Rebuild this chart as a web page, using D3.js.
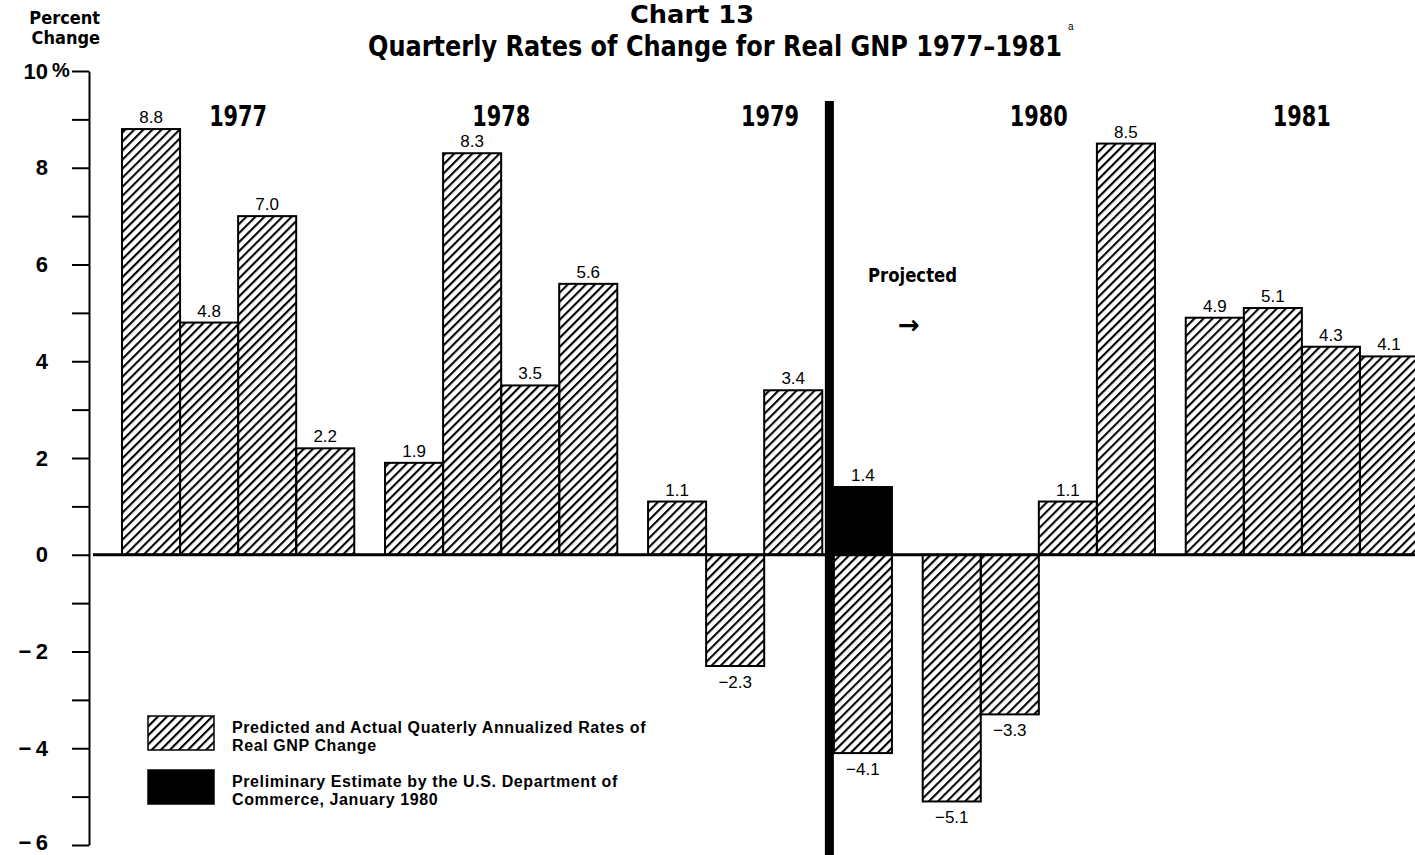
<!DOCTYPE html>
<html>
<head>
<meta charset="utf-8">
<script src="https://cdn.jsdelivr.net/npm/d3@7"></script>
<style>
  html, body { margin: 0; padding: 0; background: #fff; }
  svg { display: block; }
  .narrow { font-family: "Liberation Sans Narrow", "DejaVu Sans Condensed", sans-serif; font-weight: bold; }
  .plain { font-family: "Liberation Sans", Arial, sans-serif; }
  .legend { font-family: "Liberation Sans", Arial, sans-serif; font-weight: bold; font-size: 16px; letter-spacing: 0.6px; }
</style>
</head>
<body>
<div id="chart"></div>
<script>
// chart values
var years = ["1977", "1978", "1979", "1980", "1981"];
var quarters = [1, 2, 3, 4];
// predicted and actual quarterly rates, year by year
var gnpChange = [
  8.8, 4.8, 7.0, 2.2,
  1.9, 8.3, 3.5, 5.6,
  1.1, -2.3, 3.4, -4.1,
  -5.1, -3.3, 1.1, 8.5,
  4.9, 5.1, 4.3, 4.1
];
// preliminary Commerce estimate
var estimateYears = ["1979"];
var estimateQuarters = [4];
var estimateValues = [1.4];
var yTicks = d3.range(-6, 11);
var legendLabels = [
  ["Predicted and Actual Quaterly Annualized Rates of", "Real GNP Change"],
  ["Preliminary Estimate by the U.S. Department of", "Commerce, January 1980"]
];
var projectedFrom = { year: "1979", quarter: 4 };

var W = 1415, H = 855;
var GAP = 0.53, DIVIDER = 0.2;

var svg = d3.select('#chart').append('svg')
  .attr('width', W)
  .attr('height', H);

var defs = svg.append('defs');
defs.append('pattern')
  .attr('id', 'hatch')
  .attr('patternUnits', 'userSpaceOnUse')
  .attr('width', 6.4)
  .attr('height', 6.4)
  .attr('patternTransform', 'rotate(45)')
  .append('line')
    .attr('x1', 1).attr('y1', 0)
    .attr('x2', 1).attr('y2', 6.4)
    .attr('stroke', '#000')
    .attr('stroke-width', 2.2);

// slot position in bar units, with gaps between years and room for the divider
function slotUnit(yi, qi) {
  var u = yi * (4 + GAP) + qi;
  var dy = years.indexOf(projectedFrom.year), dq = projectedFrom.quarter - 1;
  if (yi > dy || (yi === dy && qi >= dq)) u += DIVIDER;
  return u;
}
var totalUnits = years.length * 4 + (years.length - 1) * GAP + DIVIDER;

var x = d3.scaleLinear().domain([0, totalUnits]).range([122, 1418]);
var y = d3.scaleLinear().domain([-6, 10]).range([845, 71]);
var unitPx = x(1) - x(0);

var rows = gnpChange.map(function(v, i) {
  return { year: years[Math.floor(i / 4)], quarter: quarters[i % 4], value: v };
});
var estimates = estimateValues.map(function(v, i) {
  return { year: estimateYears[i], quarter: estimateQuarters[i], value: v };
});

function barX(d) { return x(slotUnit(years.indexOf(d.year), d.quarter - 1)); }
function fmt(v) { return v < 0 ? '\u2212' + Math.abs(v).toFixed(1) : v.toFixed(1); }

// y axis
var yAxis = d3.axisLeft(y)
  .tickValues(yTicks)
  .tickSize(17)
  .tickSizeOuter(0)
  .tickPadding(24)
  .tickFormat(function(d) {
    if (d % 2) return '';
    return d < 0 ? '\u2212\u2009' + Math.abs(d) : String(d);
  });

var gy = svg.append('g')
  .attr('transform', 'translate(89,0)')
  .call(yAxis);
gy.select('.domain').attr('stroke-width', 2);
gy.selectAll('.tick line').attr('stroke-width', 2);
gy.selectAll('.tick text')
  .attr('class', 'plain')
  .attr('dy', function(d) { return d === -6 ? '0.2em' : '0.32em'; })
  .style('font-weight', 'bold')
  .style('font-size', '22px')
  .attr('fill', '#000');
gy.append('text')
  .attr('class', 'plain')
  .attr('x', -37)
  .attr('y', y(10))
  .attr('dy', '0.32em')
  .attr('text-anchor', 'start')
  .attr('fill', '#000')
  .style('font-weight', 'bold')
  .style('font-size', '20px')
  .text('%');

// bars
svg.append('g').selectAll('rect')
  .data(rows)
  .enter().append('rect')
    .attr('x', barX)
    .attr('width', unitPx)
    .attr('y', function(d) { return y(Math.max(0, d.value)); })
    .attr('height', function(d) { return Math.abs(y(d.value) - y(0)); })
    .attr('fill', 'url(#hatch)')
    .attr('stroke', '#000')
    .attr('stroke-width', 2);

svg.append('g').selectAll('rect')
  .data(estimates)
  .enter().append('rect')
    .attr('x', barX)
    .attr('width', unitPx)
    .attr('y', function(d) { return y(Math.max(0, d.value)); })
    .attr('height', function(d) { return Math.abs(y(d.value) - y(0)); })
    .attr('fill', '#000')
    .attr('stroke', '#000')
    .attr('stroke-width', 2);

// value labels
svg.append('g').selectAll('text')
  .data(rows.concat(estimates))
  .enter().append('text')
    .attr('class', 'plain')
    .attr('x', function(d) { return barX(d) + unitPx / 2; })
    .attr('y', function(d) { return d.value >= 0 ? y(d.value) - 6 : y(d.value) + 22; })
    .attr('text-anchor', 'middle')
    .style('font-size', '17px')
    .text(function(d) { return fmt(d.value); });

// zero line
svg.append('line')
  .attr('x1', 93).attr('x2', W)
  .attr('y1', y(0)).attr('y2', y(0))
  .attr('stroke', '#000')
  .attr('stroke-width', 3);

// projection divider, right against the first projected bar
var divRight = x(slotUnit(years.indexOf(projectedFrom.year), projectedFrom.quarter - 1));
svg.append('rect')
  .attr('x', divRight - 9)
  .attr('y', 101)
  .attr('width', 9)
  .attr('height', H - 101)
  .attr('fill', '#000');

// year labels
svg.append('g').selectAll('text')
  .data(years)
  .enter().append('text')
    .attr('class', 'narrow')
    .attr('x', function(d, i) { return (x(slotUnit(i, 0)) + x(slotUnit(i, 3) + 1)) / 2; })
    .attr('y', 126)
    .attr('text-anchor', 'middle')
    .attr('textLength', 58)
    .attr('lengthAdjust', 'spacingAndGlyphs')
    .style('font-size', '29px')
    .text(function(d) { return d; });

// titles
svg.append('text')
  .attr('class', 'narrow')
  .attr('x', 692).attr('y', 23)
  .attr('text-anchor', 'middle')
  .attr('textLength', 124)
  .attr('lengthAdjust', 'spacingAndGlyphs')
  .style('font-size', '25px')
  .text('Chart 13');
svg.append('text')
  .attr('class', 'narrow')
  .attr('x', 368).attr('y', 56)
  .attr('textLength', 694)
  .attr('lengthAdjust', 'spacingAndGlyphs')
  .style('font-size', '28px')
  .text('Quarterly Rates of Change for Real GNP 1977\u20131981');
svg.append('text')
  .attr('class', 'plain')
  .attr('x', 1068).attr('y', 30)
  .style('font-size', '10px')
  .text('a');

svg.append('text')
  .attr('class', 'narrow')
  .attr('text-anchor', 'end')
  .style('font-size', '18px')
  .selectAll('tspan')
  .data(['Percent', 'Change'])
  .enter().append('tspan')
    .attr('x', 100)
    .attr('y', function(d, i) { return 24 + i * 20; })
    .text(function(d) { return d; });

svg.append('text')
  .attr('class', 'narrow')
  .attr('x', 868).attr('y', 282)
  .attr('textLength', 89)
  .attr('lengthAdjust', 'spacingAndGlyphs')
  .style('font-size', '19px')
  .text('Projected');
svg.append('text')
  .attr('x', 898).attr('y', 334)
  .style('font-family', '"DejaVu Sans", sans-serif')
  .style('font-weight', 'bold')
  .style('font-size', '26px')
  .text('\u2192');

// legend
var legend = svg.append('g').attr('transform', 'translate(148,716)');
var lg = legend.selectAll('g')
  .data(legendLabels)
  .enter().append('g')
    .attr('transform', function(d, i) { return 'translate(0,' + i * 54 + ')'; });
lg.append('rect')
  .attr('width', 66)
  .attr('height', 34)
  .attr('fill', function(d, i) { return i ? '#000' : 'url(#hatch)'; })
  .attr('stroke', '#000')
  .attr('stroke-width', 1.5);
lg.append('text')
  .attr('class', 'legend')
  .selectAll('tspan')
  .data(function(d) { return d; })
  .enter().append('tspan')
    .attr('x', 84)
    .attr('y', function(d, i) { return 17 + i * 18; })
    .text(function(d) { return d; });
</script>
</body>
</html>
